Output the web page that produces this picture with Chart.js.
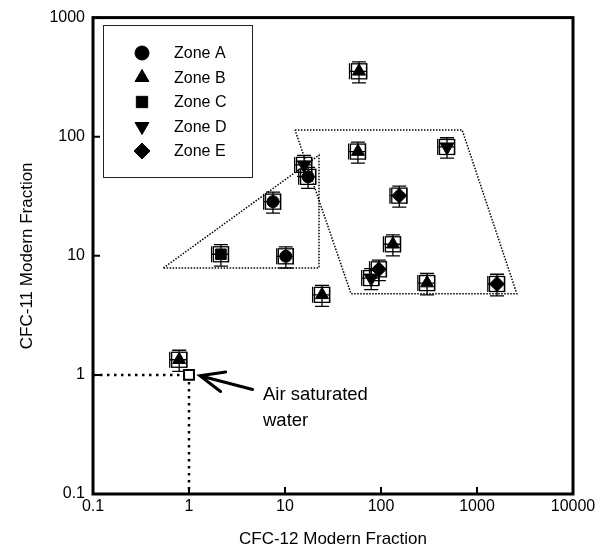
<!DOCTYPE html>
<html>
<head>
<meta charset="utf-8">
<script src="https://cdn.jsdelivr.net/npm/chart.js@4.4.1/dist/chart.umd.min.js"></script>
<style>
body { margin: 0; background: #fff; }
#wrap { width: 604px; height: 555px; }
</style>
</head>
<body>
<div id="wrap"><canvas id="cfc-chart" width="604" height="555"></canvas></div>
<script>
const FONT = "'Liberation Sans', Arial, Helvetica, sans-serif";

// axis ticks
const xTicks = [0.1, 1, 10, 100, 1000, 10000];
const xTickLabels = ['0.1', '1', '10', '100', '1000', '10000'];
const yTicks = [0.1, 1, 10, 100, 1000];
const yTickLabels = ['0.1', '1', '10', '100', '1000'];

// CFC-12 (x) and CFC-11 (y) modern fractions per zone, with errors
const zoneAX = [7.5, 10.2, 17.4];
const zoneAY = [28.5, 9.9, 46];
const zoneAXErr = [1.5, 2.0, 3.5];
const zoneAYErr = [5.7, 2.0, 9.2];

const zoneBX = [59, 57.5, 133, 302, 24.3, 0.79];
const zoneBY = [354, 75, 12.5, 5.9, 4.7, 1.34];
const zoneBXErr = [12, 11.5, 27, 60, 4.9, 0.16];
const zoneBYErr = [71, 15, 2.5, 1.2, 0.94, 0.27];

const zoneCX = [2.15];
const zoneCY = [10.3];
const zoneCXErr = [0.43];
const zoneCYErr = [2.1];

const zoneDX = [487, 79, 15.8];
const zoneDY = [82, 6.5, 58];
const zoneDXErr = [97, 16, 3.2];
const zoneDYErr = [16, 1.3, 11.6];

const zoneEX = [155, 95, 1616];
const zoneEY = [32, 7.7, 5.8];
const zoneEXErr = [31, 19, 320];
const zoneEYErr = [6.4, 1.5, 1.2];

// outlined groups (dotted)
const groupOneX = [0.54, 22.6, 22.6, 0.54];
const groupOneY = [7.9, 70, 7.9, 7.9];
const groupTwoX = [12.7, 700, 2600, 48.7, 12.7];
const groupTwoY = [114, 114, 4.8, 4.8, 114];

// air saturated water reference
const airX = [1];
const airY = [1];
const arrowTip = [1.3, 0.985];
const arrowTail = [4.6, 0.755];
const airLabelPos = [5.9, 0.68];
const airLabel = ['Air saturated', 'water'];

const zones = [
    { name: 'Zone A', x: zoneAX, y: zoneAY, xErr: zoneAXErr, yErr: zoneAYErr, style: 'circle', rotation: 0, radius: 6 },
    { name: 'Zone B', x: zoneBX, y: zoneBY, xErr: zoneBXErr, yErr: zoneBYErr, style: 'triangle', rotation: 0, radius: 7.5 },
    { name: 'Zone C', x: zoneCX, y: zoneCY, xErr: zoneCXErr, yErr: zoneCYErr, style: 'rect', rotation: 0, radius: 7.5 },
    { name: 'Zone D', x: zoneDX, y: zoneDY, xErr: zoneDXErr, yErr: zoneDYErr, style: 'triangle', rotation: 180, radius: 8 },
    { name: 'Zone E', x: zoneEX, y: zoneEY, xErr: zoneEXErr, yErr: zoneEYErr, style: 'rectRot', rotation: 0, radius: 7.5 }
];

function toPoints(xs, ys) {
    let pts = [];
    for (let i = 0; i < xs.length; i++) {
        pts.push({ x: xs[i], y: ys[i] });
    }
    return pts;
}

let datasets = [];
zones.forEach(z => {
    datasets.push({
        label: z.name,
        data: toPoints(z.x, z.y),
        pointStyle: z.style,
        rotation: z.rotation,
        pointRadius: z.radius,
        pointBackgroundColor: '#000',
        pointBorderColor: '#000',
        pointBorderWidth: 1,
        showLine: false
    });
});
datasets.push({
    label: 'Air saturated water',
    data: toPoints(airX, airY),
    pointStyle: 'rect',
    pointRadius: 7,
    pointBackgroundColor: '#fff',
    pointBorderColor: '#000',
    pointBorderWidth: 2,
    showLine: false
});
datasets.push({
    label: 'air-h',
    data: [{ x: 0.1, y: airY[0] }, { x: airX[0], y: airY[0] }],
    showLine: true,
    pointRadius: 0,
    borderColor: '#000',
    borderWidth: 2.5,
    borderDash: [2.5, 4.5],
    borderCapStyle: 'butt'
});
datasets.push({
    label: 'air-v',
    data: [{ x: airX[0], y: airY[0] }, { x: airX[0], y: 0.1 }],
    showLine: true,
    pointRadius: 0,
    borderColor: '#000',
    borderWidth: 2.5,
    borderDash: [2.5, 4.5],
    borderCapStyle: 'butt'
});
[[groupOneX, groupOneY], [groupTwoX, groupTwoY]].forEach((g, i) => {
    datasets.push({
        label: 'group' + (i + 1),
        data: toPoints(g[0], g[1]),
        showLine: true,
        pointRadius: 0,
        borderColor: '#000',
        borderWidth: 1.5,
        borderDash: [1.5, 1.5],
        tension: 0
    });
});

// error bars and the open box drawn round every sample
const errorBarPlugin = {
    id: 'errorBars',
    beforeDatasetsDraw(chart) {
        let ctx = chart.ctx;
        let xs = chart.scales.x;
        let ys = chart.scales.y;
        ctx.save();
        ctx.strokeStyle = '#000';
        ctx.lineWidth = 1.3;
        zones.forEach(z => {
            for (let i = 0; i < z.x.length; i++) {
                let px = xs.getPixelForValue(z.x[i]);
                let py = ys.getPixelForValue(z.y[i]);
                let x0 = xs.getPixelForValue(z.x[i] - z.xErr[i]);
                let x1 = xs.getPixelForValue(z.x[i] + z.xErr[i]);
                let y0 = ys.getPixelForValue(z.y[i] - z.yErr[i]);
                let y1 = ys.getPixelForValue(z.y[i] + z.yErr[i]);
                ctx.beginPath();
                ctx.moveTo(x0, py); ctx.lineTo(x1, py);
                ctx.moveTo(x0, py - 8); ctx.lineTo(x0, py + 8);
                ctx.moveTo(x1, py - 8); ctx.lineTo(x1, py + 8);
                ctx.moveTo(px, y0); ctx.lineTo(px, y1);
                ctx.moveTo(px - 7, y0); ctx.lineTo(px + 7, y0);
                ctx.moveTo(px - 7, y1); ctx.lineTo(px + 7, y1);
                ctx.stroke();
                ctx.strokeRect(px - 7.5, py - 7.5, 15, 15);
            }
        });
        ctx.restore();
    }
};

// frame, inward ticks, legend and the air saturated label
const decorPlugin = {
    id: 'decor',
    afterDraw(chart) {
        let ctx = chart.ctx;
        let xs = chart.scales.x;
        let ys = chart.scales.y;
        let area = chart.chartArea;
        ctx.save();
        ctx.strokeStyle = '#000';
        ctx.fillStyle = '#000';

        ctx.lineWidth = 2;
        ctx.beginPath();
        xTicks.forEach(v => {
            let px = xs.getPixelForValue(v);
            ctx.moveTo(px, area.bottom); ctx.lineTo(px, area.bottom - 7);
        });
        yTicks.forEach(v => {
            let py = ys.getPixelForValue(v);
            ctx.moveTo(area.left, py); ctx.lineTo(area.left + 7, py);
        });
        ctx.stroke();

        ctx.lineWidth = 3;
        ctx.strokeRect(area.left, area.top, area.right - area.left, area.bottom - area.top);

        // legend
        ctx.lineWidth = 1;
        ctx.strokeStyle = '#222';
        ctx.strokeRect(103.5, 25.5, 149, 152);
        ctx.font = '16px ' + FONT;
        ctx.textBaseline = 'middle';
        ctx.textAlign = 'left';
        zones.forEach((z, i) => {
            let ly = 53 + i * 24.5;
            ctx.fillStyle = '#000';
            ctx.strokeStyle = '#000';
            Chart.helpers.drawPoint(ctx, {
                pointStyle: z.style,
                rotation: z.rotation,
                radius: z.style === 'circle' ? 7 : 8,
                borderWidth: 1
            }, 142, ly);
            ctx.fillText(z.name, 174, ly + 1);
        });

        // arrow to the air saturated water point
        let tx = xs.getPixelForValue(arrowTip[0]);
        let ty = ys.getPixelForValue(arrowTip[1]);
        let sx = xs.getPixelForValue(arrowTail[0]);
        let sy = ys.getPixelForValue(arrowTail[1]);
        let ang = Math.atan2(sy - ty, sx - tx);
        ctx.lineWidth = 3;
        ctx.lineCap = 'round';
        ctx.beginPath();
        ctx.moveTo(sx, sy); ctx.lineTo(tx, ty);
        ctx.moveTo(tx + 26 * Math.cos(ang + 0.4), ty + 26 * Math.sin(ang + 0.4));
        ctx.lineTo(tx, ty);
        ctx.lineTo(tx + 26 * Math.cos(ang - 0.4), ty + 26 * Math.sin(ang - 0.4));
        ctx.stroke();

        let lx = xs.getPixelForValue(airLabelPos[0]);
        let lyy = ys.getPixelForValue(airLabelPos[1]);
        ctx.font = '18.5px ' + FONT;
        airLabel.forEach((t, i) => ctx.fillText(t, lx, lyy + i * 26));
        ctx.restore();
    }
};

let canvas = document.getElementById('cfc-chart');
let context = canvas.getContext('2d');
let config = {
    type: 'scatter',
    data: { datasets: datasets },
    options: {
        responsive: false,
        animation: false,
        devicePixelRatio: 1,
        layout: { padding: { top: 15, right: 31, left: 0, bottom: 0 } },
        plugins: {
            legend: { display: false },
            tooltip: { enabled: false }
        },
        scales: {
            x: {
                type: 'logarithmic',
                position: 'bottom',
                min: 0.1,
                max: 10000,
                grid: { display: false, drawTicks: false },
                border: { display: false },
                afterBuildTicks: s => { s.ticks = xTicks.map(v => ({ value: v })); },
                afterFit: s => { s.height = 61; },
                ticks: {
                    color: '#000',
                    font: { family: FONT, size: 16 },
                    padding: 3,
                    maxRotation: 0,
                    autoSkip: false,
                    callback: (v, i) => xTickLabels[i]
                },
                title: {
                    display: true,
                    text: 'CFC-12 Modern Fraction',
                    color: '#000',
                    font: { family: FONT, size: 17 },
                    padding: { top: 0, bottom: 5 }
                }
            },
            y: {
                type: 'logarithmic',
                position: 'left',
                min: 0.1,
                max: 1000,
                grid: { display: false, drawTicks: false },
                border: { display: false },
                afterBuildTicks: s => { s.ticks = yTicks.map(v => ({ value: v })); },
                afterFit: s => { s.width = 93; },
                ticks: {
                    color: '#000',
                    font: { family: FONT, size: 16 },
                    padding: 8,
                    autoSkip: false,
                    callback: (v, i) => yTickLabels[i]
                },
                title: {
                    display: true,
                    text: 'CFC-11 Modern Fraction',
                    color: '#000',
                    font: { family: FONT, size: 17 },
                    padding: { top: 17, bottom: 0 }
                }
            }
        }
    },
    plugins: [errorBarPlugin, decorPlugin]
};
let chart = new Chart(context, config);
</script>
</body>
</html>
